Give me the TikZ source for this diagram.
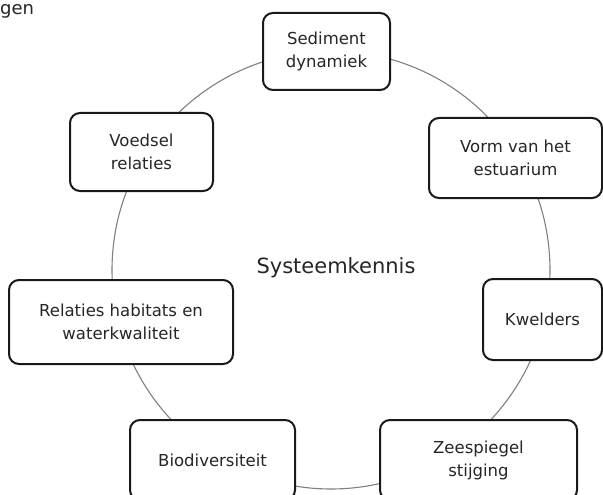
\documentclass[tikz,border=0pt]{standalone}
\usepackage{fontspec}
\setmainfont{DejaVu Sans}
\tikzset{
  topic/.style={draw=black!90, line width=2pt, rounded corners=10pt, fill=white,
    align=center, text=black!85, font=\fontsize{16.5}{23}\selectfont, inner sep=0pt},
}
\begin{document}
\begin{tikzpicture}[x=1pt,y=-1pt]
  \clip (0,0) rectangle (603,495);
  \fill[white] (0,0) rectangle (603,495);
  \node[anchor=base west, inner sep=0pt, text=black!85, font=\fontsize{18}{20}\selectfont](gen) at (0,15){gen};
  \node[circle, draw=black!50, line width=1.1pt, minimum size=438pt, inner sep=0pt](ring) at (331,270){};
  \node[text=black!85, font=\fontsize{21}{24}\selectfont](kern) at (336,268){Systeemkennis};
  \node[topic, minimum width=127pt, minimum height=77pt](sed) at (326.5,51.5){Sediment\\dynamiek};
  \node[topic, minimum width=173pt, minimum height=80pt](vorm) at (515.5,158){Vorm van het\\estuarium};
  \node[topic, minimum width=143pt, minimum height=78pt](voed) at (141.5,152){Voedsel\\relaties};
  \node[topic, minimum width=224pt, minimum height=84pt](rel) at (121,322){Relaties habitats en\\waterkwaliteit};
  \node[topic, minimum width=119pt, minimum height=81pt](kwel) at (542.5,319.5){Kwelders};
  \node[topic, minimum width=165pt, minimum height=80pt](bio) at (212.5,460){Biodiversiteit};
  \node[topic, minimum width=197pt, minimum height=80pt](zee) at (478.5,460){Zeespiegel\\stijging};
\end{tikzpicture}
\end{document}
